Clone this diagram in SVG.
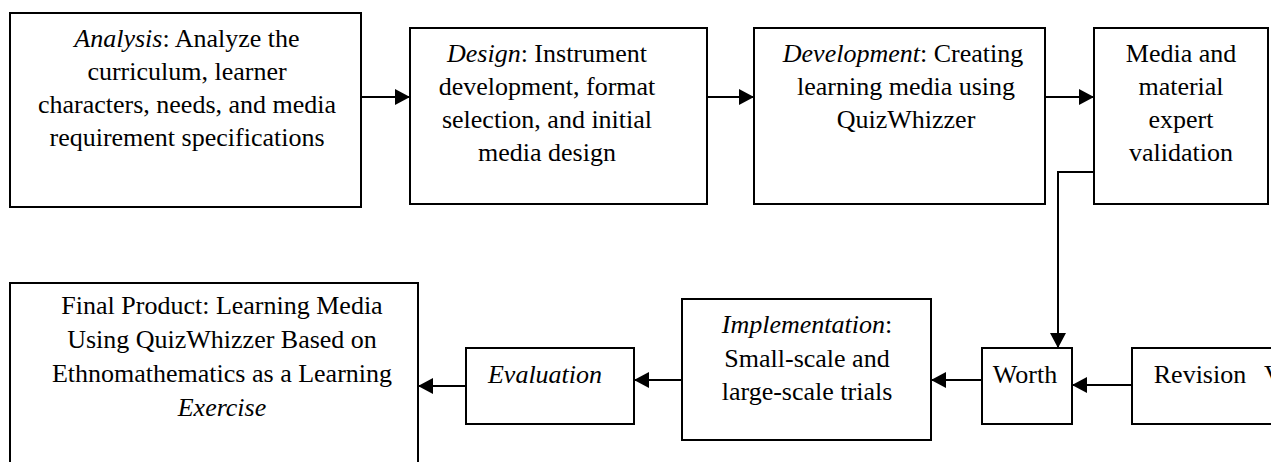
<svg xmlns="http://www.w3.org/2000/svg" width="1271" height="462" viewBox="0 0 1271 462">
<style>
.box{fill:#fff;stroke:#000;stroke-width:2}
.t{font-family:'Liberation Serif','DejaVu Serif',serif;font-size:26px;fill:#000;text-anchor:middle}
.i{font-style:italic}
.c{fill:none;stroke:#000;stroke-width:2}
</style>
<defs>
<marker id="ah" markerUnits="userSpaceOnUse" markerWidth="16" markerHeight="16" refX="15" refY="8" orient="auto">
<path d="M0,0 L15,8 L0,16 z" fill="#000"/>
</marker>
</defs>
<rect width="1271" height="462" fill="#fff"/>
<g id="analysis">
<rect class="box" x="10" y="13" width="351" height="194"/>
<text class="t" font-family="Liberation Serif, serif"><tspan x="187" y="47"><tspan class="i">Analysis</tspan>: Analyze the</tspan><tspan x="187" y="80">curriculum, learner</tspan><tspan x="187" y="113">characters, needs, and media</tspan><tspan x="187" y="146">requirement specifications</tspan></text>
</g>
<g id="design">
<rect class="box" x="410" y="28" width="297" height="176"/>
<text class="t"><tspan x="547" y="62"><tspan class="i">Design</tspan>: Instrument</tspan><tspan x="547" y="95">development, format</tspan><tspan x="547" y="128">selection, and initial</tspan><tspan x="547" y="161">media design</tspan></text>
</g>
<g id="development">
<rect class="box" x="754" y="28" width="291" height="176"/>
<text class="t"><tspan x="903" y="62"><tspan class="i">Development</tspan>: Creating</tspan><tspan x="906" y="95">learning media using</tspan><tspan x="906" y="128">QuizWhizzer</tspan></text>
</g>
<g id="validation">
<rect class="box" x="1094" y="28" width="174" height="176"/>
<text class="t"><tspan x="1181" y="62">Media and</tspan><tspan x="1181" y="95">material</tspan><tspan x="1181" y="128">expert</tspan><tspan x="1181" y="161">validation</tspan></text>
</g>
<g id="final">
<rect class="box" x="10" y="283" width="408" height="200"/>
<text class="t"><tspan x="222" y="314">Final Product: Learning Media</tspan><tspan x="222" y="348">Using QuizWhizzer Based on</tspan><tspan x="222" y="382">Ethnomathematics as a Learning</tspan><tspan x="222" y="416" class="i">Exercise</tspan></text>
</g>
<g id="evaluation">
<rect class="box" x="466" y="348" width="168" height="76"/>
<text class="t"><tspan x="545" y="383" class="i">Evaluation</tspan></text>
</g>
<g id="implementation">
<rect class="box" x="682" y="299" width="249" height="141"/>
<text class="t"><tspan x="807" y="333"><tspan class="i">Implementation</tspan>:</tspan><tspan x="807" y="367">Small-scale and</tspan><tspan x="807" y="400">large-scale trials</tspan></text>
</g>
<g id="worth">
<rect class="box" x="982" y="348" width="90" height="76"/>
<text class="t"><tspan x="1025" y="383">Worth</tspan></text>
</g>
<g id="revision">
<rect class="box" x="1132" y="348" width="160" height="76"/>
<text class="t"><tspan x="1200" y="383">Revision</tspan></text>
<text class="t" style="text-anchor:start" x="1264" y="383">V</text>
</g>
<g id="connectors">
<path class="c" d="M361,97 H410" marker-end="url(#ah)"/>
<path class="c" d="M707,97 H754" marker-end="url(#ah)"/>
<path class="c" d="M1045,97 H1094" marker-end="url(#ah)"/>
<path class="c" d="M1094,172 H1058 V348" marker-end="url(#ah)"/>
<path class="c" d="M1132,385 H1072" marker-end="url(#ah)"/>
<path class="c" d="M982,380 H931" marker-end="url(#ah)"/>
<path class="c" d="M682,380 H634" marker-end="url(#ah)"/>
<path class="c" d="M466,386 H418" marker-end="url(#ah)"/>
</g>
</svg>
